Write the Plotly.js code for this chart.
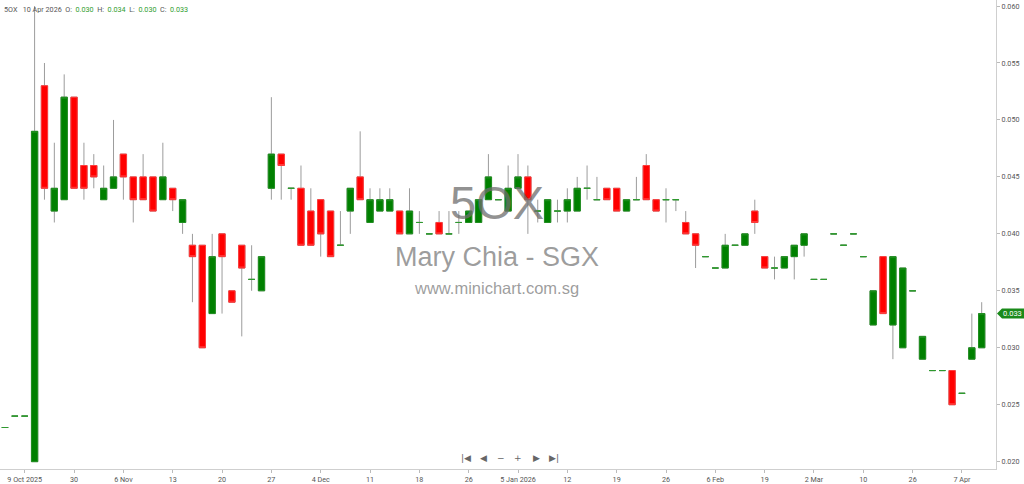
<!DOCTYPE html>
<html>
<head>
<meta charset="utf-8">
<script src="https://cdn.plot.ly/plotly-3.0.1.min.js"></script>
<style>
  html, body { margin: 0; padding: 0; background: #fff; }
  #chart { width: 1024px; height: 484px; }
</style>
</head>
<body>
<div id="chart"></div>
<script>
// daily candles, 5OX, Oct 2025 - 10 Apr 2026 (only days with trades)
const opens = [
  0.023, 0.024, 0.024, 0.020, 0.053, 0.042, 0.043, 0.052, 0.046, 0.046,
  0.043, 0.044, 0.047, 0.045, 0.045, 0.045, 0.043, 0.044, 0.041, 0.039,
  0.039, 0.033, 0.040, 0.035, 0.039, 0.036, 0.035, 0.044, 0.047, 0.044,
  0.044, 0.042, 0.043, 0.042, 0.039, 0.042, 0.045, 0.041, 0.042, 0.042,
  0.042, 0.040, 0.041, 0.040, 0.041, 0.040, 0.041, 0.041, 0.041, 0.043,
  0.043, 0.042, 0.044, 0.045, 0.042, 0.041, 0.042, 0.042, 0.042, 0.044,
  0.043, 0.044, 0.044, 0.042, 0.043, 0.046, 0.043, 0.043, 0.043, 0.041,
  0.040, 0.038, 0.037, 0.037, 0.039, 0.039, 0.042, 0.038, 0.037, 0.037,
  0.038, 0.039, 0.036, 0.036, 0.040, 0.039, 0.040, 0.038, 0.032, 0.038,
  0.032, 0.030, 0.035, 0.029, 0.028, 0.028, 0.028, 0.026, 0.029, 0.030
];
const highs = [
  0.023, 0.024, 0.024, 0.060, 0.055, 0.048, 0.054, 0.052, 0.048, 0.047,
  0.046, 0.050, 0.047, 0.045, 0.047, 0.045, 0.048, 0.044, 0.043, 0.040,
  0.039, 0.040, 0.040, 0.035, 0.039, 0.039, 0.038, 0.052, 0.047, 0.044,
  0.046, 0.044, 0.043, 0.042, 0.042, 0.044, 0.049, 0.044, 0.044, 0.044,
  0.042, 0.044, 0.042, 0.040, 0.042, 0.042, 0.042, 0.042, 0.043, 0.047,
  0.043, 0.046, 0.047, 0.046, 0.043, 0.043, 0.043, 0.044, 0.045, 0.046,
  0.045, 0.044, 0.044, 0.043, 0.045, 0.047, 0.043, 0.044, 0.043, 0.042,
  0.040, 0.038, 0.037, 0.040, 0.039, 0.040, 0.043, 0.038, 0.038, 0.038,
  0.039, 0.040, 0.036, 0.036, 0.040, 0.039, 0.040, 0.038, 0.035, 0.038,
  0.038, 0.037, 0.035, 0.031, 0.028, 0.028, 0.028, 0.026, 0.033, 0.034
];
const lows = [
  0.023, 0.024, 0.024, 0.020, 0.043, 0.041, 0.043, 0.044, 0.043, 0.044,
  0.043, 0.044, 0.043, 0.041, 0.043, 0.042, 0.043, 0.042, 0.040, 0.034,
  0.030, 0.033, 0.033, 0.034, 0.031, 0.035, 0.035, 0.043, 0.043, 0.043,
  0.039, 0.039, 0.038, 0.038, 0.039, 0.040, 0.043, 0.041, 0.042, 0.042,
  0.040, 0.040, 0.040, 0.040, 0.040, 0.040, 0.040, 0.041, 0.041, 0.043,
  0.043, 0.042, 0.044, 0.040, 0.041, 0.041, 0.041, 0.041, 0.042, 0.043,
  0.043, 0.043, 0.042, 0.042, 0.043, 0.043, 0.042, 0.041, 0.042, 0.040,
  0.037, 0.038, 0.037, 0.037, 0.039, 0.039, 0.040, 0.037, 0.036, 0.037,
  0.036, 0.038, 0.036, 0.036, 0.040, 0.039, 0.040, 0.038, 0.032, 0.033,
  0.029, 0.030, 0.035, 0.029, 0.028, 0.028, 0.025, 0.026, 0.029, 0.030
];
const closes = [
  0.023, 0.024, 0.024, 0.049, 0.044, 0.044, 0.052, 0.044, 0.044, 0.045,
  0.044, 0.045, 0.045, 0.043, 0.043, 0.042, 0.045, 0.043, 0.043, 0.038,
  0.030, 0.038, 0.038, 0.034, 0.037, 0.036, 0.038, 0.047, 0.046, 0.044,
  0.039, 0.039, 0.040, 0.038, 0.039, 0.044, 0.043, 0.043, 0.043, 0.043,
  0.040, 0.042, 0.041, 0.040, 0.040, 0.040, 0.041, 0.042, 0.043, 0.045,
  0.043, 0.044, 0.045, 0.043, 0.042, 0.043, 0.042, 0.043, 0.044, 0.044,
  0.043, 0.043, 0.042, 0.043, 0.043, 0.043, 0.042, 0.043, 0.043, 0.040,
  0.039, 0.038, 0.037, 0.039, 0.039, 0.040, 0.041, 0.037, 0.037, 0.038,
  0.039, 0.040, 0.036, 0.036, 0.040, 0.039, 0.040, 0.038, 0.035, 0.033,
  0.038, 0.037, 0.035, 0.031, 0.028, 0.028, 0.025, 0.026, 0.030, 0.033
];

// x-axis labels sit on every 5th candle
const tickIdx = [2, 7, 12, 17, 22, 27, 32, 37, 42, 47, 52, 57, 62, 67, 72, 77, 82, 87, 92, 97];
const tickLabels = [
  "9 Oct 2025", "30", "6 Nov", "13", "20", "27", "4 Dec", "11", "18", "26",
  "5 Jan 2026", "12", "19", "26", "6 Feb", "19", "2 Mar", "10", "26", "7 Apr"
];
const priceTicks = [0.020, 0.025, 0.030, 0.035, 0.040, 0.045, 0.050, 0.055, 0.060];

const GREEN = "#008000";
const RED = "#ff0000";
const WICK = "#9c9c9c";
const LABEL_FONT = "Roboto, sans-serif";

const idx = opens.map((_, i) => i);
const bodyTop = opens.map((o, i) => Math.max(o, closes[i]));
const bodyBot = opens.map((o, i) => Math.min(o, closes[i]));

// candles with a real body vs. flat ones (open == close)
const bodyI = idx.filter((i) => opens[i] !== closes[i]);
const flatI = idx.filter((i) => opens[i] === closes[i]);
const pick = (arr, ids) => ids.map((i) => arr[i]);

// wicks in gray, drawn first
const wickTrace = {
  type: "candlestick",
  x: idx,
  open: opens,
  high: highs,
  low: lows,
  close: closes,
  increasing: { line: { color: WICK, width: 1 }, fillcolor: WICK },
  decreasing: { line: { color: WICK, width: 1 }, fillcolor: WICK },
  hoverinfo: "skip",
  showlegend: false,
};

// coloured bodies on top of the wicks
const bodyTrace = {
  type: "candlestick",
  x: bodyI,
  open: pick(opens, bodyI),
  high: pick(bodyTop, bodyI),
  low: pick(bodyBot, bodyI),
  close: pick(closes, bodyI),
  increasing: { line: { color: "#1f8f1f", width: 1 }, fillcolor: GREEN },
  decreasing: { line: { color: "#ff3b3b", width: 1 }, fillcolor: RED },
  hoverinfo: "skip",
  showlegend: false,
};

// flat candles are always a short green dash
const flatTrace = {
  type: "candlestick",
  x: flatI,
  open: pick(opens, flatI),
  high: pick(opens, flatI),
  low: pick(opens, flatI),
  close: pick(closes, flatI),
  increasing: { line: { color: "#2e9a2e", width: 1 }, fillcolor: GREEN },
  decreasing: { line: { color: "#2e9a2e", width: 1 }, fillcolor: GREEN },
  hoverinfo: "skip",
  showlegend: false,
};

const last = opens.length - 1;
const fmt = (v) => v.toFixed(3);

const plotW = 996;
const plotH = 469;

// header: symbol, date and the last candle's OHLC
const sp = (n) => "&nbsp;".repeat(n);
const val = (v) => "<span style='color:#2f9e2f'>" + fmt(v) + "</span>";
const header =
  "5OX" + sp(3) + "10 Apr 2026" + sp(2) +
  "O:" + sp(2) + val(opens[last]) + sp(2) +
  "H:" + sp(2) + val(highs[last]) + sp(2) +
  "L:" + sp(2) + val(lows[last]) + sp(2) +
  "C:" + sp(2) + val(closes[last]);

const navButtons = ["|◀", "◀", "−", "+", "▶", "▶|"];
const navX = [466, 483, 501, 518, 536, 554];

const annotations = [
  {
    xref: "paper", yref: "paper", x: 4 / plotW, y: 1 - 10 / plotH,
    xanchor: "left", yanchor: "middle", showarrow: false,
    borderpad: 0, xshift: -1,
    text: header, font: { family: LABEL_FONT, size: 7.2, color: "#555" },
  },
  {
    xref: "paper", yref: "paper", x: 497 / plotW, y: 1 - 202 / plotH,
    xanchor: "center", yanchor: "middle", showarrow: false,
    text: "5OX", font: { family: "Liberation Sans, Arial, sans-serif", size: 47, color: "rgba(110,110,110,0.75)" },
  },
  {
    xref: "paper", yref: "paper", x: 497 / plotW, y: 1 - 257 / plotH,
    xanchor: "center", yanchor: "middle", showarrow: false,
    text: "Mary Chia - SGX", font: { family: "Liberation Sans, Arial, sans-serif", size: 27, color: "rgba(140,140,140,0.85)" },
  },
  {
    xref: "paper", yref: "paper", x: 496 / plotW, y: 1 - 288 / plotH,
    xanchor: "center", yanchor: "middle", showarrow: false,
    text: "www.minichart.com.sg", font: { family: "Liberation Sans, Arial, sans-serif", size: 16.5, color: "rgba(140,140,140,0.85)" },
  },
  {
    xref: "paper", yref: "y", x: 1, y: closes[last], xshift: 16,
    xanchor: "center", yanchor: "middle", showarrow: false,
    text: fmt(closes[last]), font: { family: LABEL_FONT, size: 7.5, color: "#fff" },
  },
];

navButtons.forEach((b, k) => {
  annotations.push({
    xref: "paper", yref: "paper", x: navX[k] / plotW, y: 1 - 458 / plotH,
    xanchor: "center", yanchor: "middle", showarrow: false,
    text: b, font: { family: "DejaVu Sans, sans-serif", size: 9, color: "#666" },
  });
});

const layout = {
  width: 1024,
  height: 484,
  margin: { l: 0, r: 1024 - plotW, t: 0, b: 484 - plotH },
  paper_bgcolor: "#fff",
  plot_bgcolor: "#fff",
  showlegend: false,
  boxgap: 0.36,
  boxgroupgap: 0,
  xaxis: {
    type: "linear",
    range: [-0.507, 100.45],
    tickvals: tickIdx,
    ticktext: tickLabels,
    showgrid: false,
    zeroline: false,
    showline: true,
    linecolor: "#cfcfcf",
    linewidth: 1,
    ticks: "outside",
    ticklen: 3,
    tickcolor: "#bbb",
    tickfont: { family: LABEL_FONT, size: 7.2, color: "#555" },
    rangeslider: { visible: false },
    fixedrange: true,
  },
  yaxis: {
    side: "right",
    range: [0.019357, 0.06053],
    tickvals: priceTicks,
    tickformat: ".3f",
    showgrid: false,
    zeroline: false,
    showline: true,
    linecolor: "#cfcfcf",
    linewidth: 1,
    ticks: "outside",
    ticklen: 3,
    tickcolor: "#bbb",
    tickfont: { family: LABEL_FONT, size: 7.2, color: "#555" },
    fixedrange: true,
  },
  shapes: [
    {
      // last price tag on the right axis
      type: "path",
      xref: "paper", yref: "y",
      xsizemode: "pixel", ysizemode: "pixel",
      xanchor: 1, yanchor: closes[last],
      path: "M 1,0 L 6,5 L 28,5 L 28,-5 L 6,-5 Z",
      fillcolor: "#1a8a1a",
      line: { width: 0 },
      layer: "above",
    },
  ],
  annotations: annotations,
};

Plotly.newPlot("chart", [wickTrace, bodyTrace, flatTrace], layout, { staticPlot: true, displayModeBar: false });
</script>
</body>
</html>
